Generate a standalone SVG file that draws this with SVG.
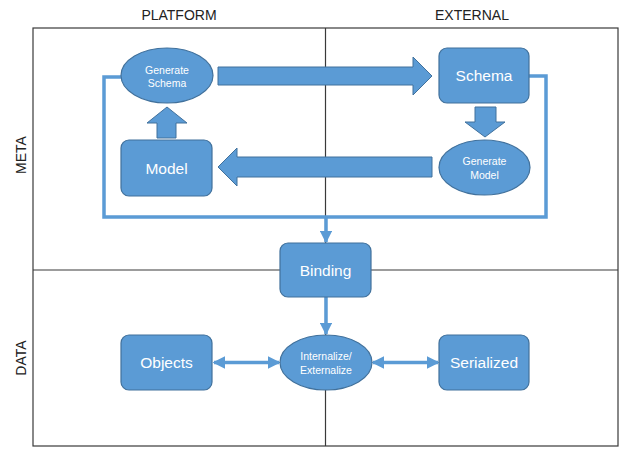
<svg xmlns="http://www.w3.org/2000/svg" width="626" height="454" viewBox="0 0 626 454">
<defs>
<style>
.grid{fill:none;stroke:#3a3a3a;stroke-width:1.2}
.node{fill:#5B9BD5;stroke:#41719C;stroke-width:1.2}
.big{fill:#5B9BD5;stroke:#41719C;stroke-width:1}
.conn{fill:none;stroke:#5B9BD5;stroke-width:3.5}
.lbl{font-family:"Liberation Sans",Arial,sans-serif;fill:#222;font-size:14px;text-anchor:middle}
.t{font-family:"Liberation Sans",Arial,sans-serif;fill:#fff;text-anchor:middle}
.tl{font-size:15.5px}
.ts{font-size:10.5px}
</style>
<marker id="ah" viewBox="0 0 10 10" refX="9" refY="5" markerWidth="3.6" markerHeight="3.6" orient="auto-start-reverse" markerUnits="strokeWidth">
<path d="M0,0 L10,5 L0,10 z" fill="#5B9BD5"/>
</marker>
</defs>
<rect width="626" height="454" fill="#fff"/>
<g id="grid">
<rect class="grid" x="33" y="28" width="585" height="418"/>
<line class="grid" x1="325.5" y1="28" x2="325.5" y2="446"/>
<line class="grid" x1="33" y1="270" x2="618" y2="270"/>
</g>
<g id="labels">
<text class="lbl" x="179" y="20">PLATFORM</text>
<text class="lbl" x="472" y="20">EXTERNAL</text>
<text class="lbl" transform="translate(26,155) rotate(-90)">META</text>
<text class="lbl" transform="translate(26,358) rotate(-90)">DATA</text>
</g>
<g id="connectors">
<polyline class="conn" points="121,77 104,77 104,217 546,217 546,76 529,76"/>
<line class="conn" x1="326" y1="217" x2="326" y2="242" marker-end="url(#ah)"/>
<line class="conn" x1="326" y1="297" x2="326" y2="334" marker-end="url(#ah)"/>
<line class="conn" x1="214" y1="362.5" x2="279" y2="362.5" marker-start="url(#ah)" marker-end="url(#ah)"/>
<line class="conn" x1="373" y1="362.5" x2="438" y2="362.5" marker-start="url(#ah)" marker-end="url(#ah)"/>
<polygon class="big" points="218,67 413,67 413,57 432,76 413,95 413,85 218,85"/>
<polygon class="big" points="432,157 237,157 237,148 218,167 237,186 237,177 432,177"/>
<polygon class="big" points="157,138 157,123 147,123 167,107 187,123 176,123 176,138"/>
<polygon class="big" points="475,107 496,107 496,122 505,122 485,137 465,122 475,122"/>
</g>
<g id="gen-schema">
<ellipse class="node" cx="167" cy="75.5" rx="46" ry="27.5"/>
<text class="t ts" x="167" y="74">Generate</text>
<text class="t ts" x="167" y="87">Schema</text>
</g>
<g id="model">
<rect class="node" x="121" y="140" width="91" height="56" rx="8"/>
<text class="t tl" x="166.5" y="173.5">Model</text>
</g>
<g id="schema">
<rect class="node" x="439" y="48" width="90" height="55" rx="8"/>
<text class="t tl" x="484" y="81">Schema</text>
</g>
<g id="gen-model">
<ellipse class="node" cx="484.5" cy="167.5" rx="45.5" ry="27.5"/>
<text class="t ts" x="484.5" y="165">Generate</text>
<text class="t ts" x="484.5" y="179">Model</text>
</g>
<g id="binding">
<rect class="node" x="280" y="243" width="91" height="54" rx="8"/>
<text class="t tl" x="325.5" y="275.5">Binding</text>
</g>
<g id="objects">
<rect class="node" x="121" y="335" width="91" height="55" rx="8"/>
<text class="t tl" x="166.5" y="368">Objects</text>
</g>
<g id="intext">
<ellipse class="node" cx="326" cy="362.5" rx="46" ry="27.5"/>
<text class="t ts" x="326" y="360">Internalize/</text>
<text class="t ts" x="326" y="374">Externalize</text>
</g>
<g id="serialized">
<rect class="node" x="439" y="335" width="90" height="55" rx="8"/>
<text class="t tl" x="484" y="368">Serialized</text>
</g>
</svg>
